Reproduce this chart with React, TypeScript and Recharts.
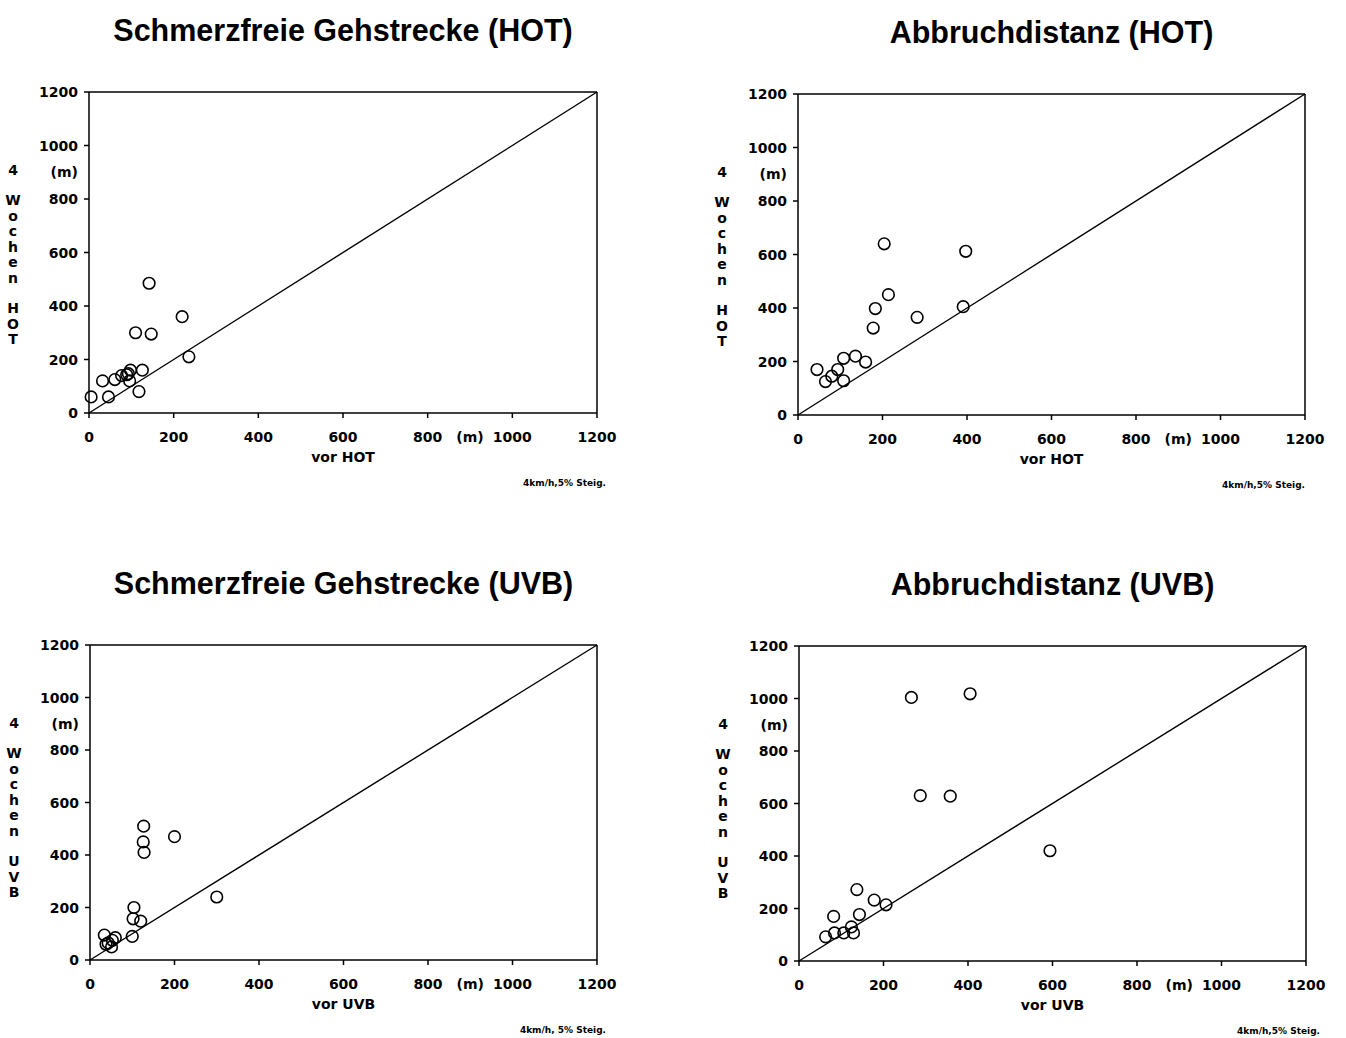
import React from 'react';
import { ScatterChart, Scatter, XAxis, YAxis, ReferenceLine } from 'recharts';

// ---- tick labels ----
const axisTicks = [0, 200, 400, 600, 800, 900, 1000, 1200];
const unitTick = 900;
const unitLabel = '(m)';

// ---- texts ----
const titles = [
  'Schmerzfreie Gehstrecke (HOT)',
  'Abbruchdistanz (HOT)',
  'Schmerzfreie Gehstrecke (UVB)',
  'Abbruchdistanz (UVB)',
];
const xAxisTitles = ['vor HOT', 'vor HOT', 'vor UVB', 'vor UVB'];
const yAxisTreatment = ['HOT', 'HOT', 'UVB', 'UVB'];
const yAxisWeeks = '4';
const yAxisWord = 'Wochen';
const footnotes = ['4km/h,5% Steig.', '4km/h,5% Steig.', '4km/h, 5% Steig.', '4km/h,5% Steig.'];

// ---- data: Schmerzfreie Gehstrecke (HOT) ----
const sgHotVor = [5, 32, 46, 61, 77, 89, 93, 98, 96, 118, 126, 110, 147, 142, 220, 236];
const sgHot4W = [60, 120, 60, 125, 140, 143, 147, 160, 120, 80, 160, 300, 295, 485, 360, 210];

// ---- data: Abbruchdistanz (HOT) ----
const adHotVor = [45, 65, 80, 94, 108, 108, 136, 160, 178, 183, 214, 204, 282, 391, 397];
const adHot4W = [170, 125, 145, 170, 212, 128, 220, 198, 325, 398, 450, 640, 365, 405, 612];

// ---- data: Schmerzfreie Gehstrecke (UVB) ----
const sgUvbVor = [34, 38, 43, 51, 53, 60, 100, 102, 104, 120, 128, 126, 127, 200, 300];
const sgUvb4W = [95, 60, 65, 50, 75, 85, 90, 157, 200, 148, 410, 450, 510, 470, 240];

// ---- data: Abbruchdistanz (UVB) ----
const adUvbVor = [63, 84, 82, 106, 124, 129, 143, 137, 178, 206, 266, 405, 287, 358, 594];
const adUvb4W = [92, 107, 170, 107, 130, 107, 177, 272, 232, 214, 1004, 1018, 630, 628, 420];

const toPoints = (xs: number[], ys: number[]) => xs.map((x, i) => ({ x, y: ys[i] }));
const series = [
  toPoints(sgHotVor, sgHot4W),
  toPoints(adHotVor, adHot4W),
  toPoints(sgUvbVor, sgUvb4W),
  toPoints(adUvbVor, adUvb4W),
];

// plot boxes (layout only)
const boxes = [
  { L: 89, T: 92, R: 597, B: 413, foot: 606 },
  { L: 798, T: 94, R: 1305, B: 415, foot: 1305 },
  { L: 90, T: 645, R: 597, B: 960, foot: 606 },
  { L: 799, T: 646, R: 1306, B: 961, foot: 1320 },
];

const tickFont = { fontFamily: '"DejaVu Sans", sans-serif', fontWeight: 700, fontSize: 14 } as const;

const XTick = (props: any) => {
  const { x, y, payload } = props;
  const v = payload.value;
  const isUnit = v === unitTick;
  return (
    <g>
      {!isUnit && <line x1={x} x2={x} y1={y - 5} y2={y} stroke="#000" strokeWidth={1.5} />}
      <text x={x} y={y + 19} textAnchor="middle" dominantBaseline="central" fill="#000" style={tickFont}>
        {isUnit ? unitLabel : v}
      </text>
    </g>
  );
};

const YTick = (props: any) => {
  const { x, y, payload } = props;
  const v = payload.value;
  const isUnit = v === unitTick;
  return (
    <g>
      {!isUnit && <line x1={x} x2={x + 5} y1={y} y2={y} stroke="#000" strokeWidth={1.5} />}
      <text x={x - 6} y={y} textAnchor="end" dominantBaseline="central" fill="#000" style={tickFont}>
        {isUnit ? unitLabel : v}
      </text>
    </g>
  );
};

const Ring = (props: any) => {
  const { cx, cy } = props;
  return <circle cx={cx} cy={cy} r={5.8} fill="none" stroke="#000" strokeWidth={1.6} />;
};

const CW = 673;
const CH = 540;

const Panel = ({ i }: { i: number }) => {
  const b = boxes[i];
  const pw = b.R - b.L;
  const ph = b.B - b.T;
  const yAxisW = 40;
  const xAxisH = 30;
  const margin = {
    top: 92,
    left: 89 - yAxisW,
    right: CW - 89 - pw,
    bottom: CH - 92 - ph - xAxisH,
  };
  const cx = (b.L + b.R) / 2;
  const center: React.CSSProperties = {
    position: 'absolute',
    transform: 'translate(-50%, -50%)',
    whiteSpace: 'nowrap',
    color: '#000',
    lineHeight: 1,
  };
  const labelFont: React.CSSProperties = {
    fontFamily: '"DejaVu Sans", sans-serif',
    fontWeight: 700,
    fontSize: 14,
  };
  const letters = (word: string, y0: number) =>
    word.split('').map((ch, k) => (
      <div key={word + k} style={{ ...center, ...labelFont, left: b.L - 76, top: y0 + k * 15.5 }}>
        {ch}
      </div>
    ));
  return (
    <>
      <div style={{ position: 'absolute', left: b.L - 89, top: b.T - 92, width: CW, height: CH }}>
        <ScatterChart width={CW} height={CH} margin={margin}>
          <XAxis
            type="number"
            dataKey="x"
            domain={[0, 1200]}
            ticks={axisTicks}
            interval={0}
            height={xAxisH}
            tickSize={5}
            tickMargin={0}
            tickLine={false}
            tick={<XTick />}
            axisLine={{ stroke: '#000', strokeWidth: 1.5 }}
          />
          <YAxis
            type="number"
            dataKey="y"
            domain={[0, 1200]}
            ticks={axisTicks}
            interval={0}
            width={yAxisW}
            tickSize={5}
            tickMargin={0}
            tickLine={false}
            tick={<YTick />}
            axisLine={{ stroke: '#000', strokeWidth: 1.5 }}
          />
          <ReferenceLine y={1200} stroke="#000" strokeWidth={1.5} />
          <ReferenceLine x={1200} stroke="#000" strokeWidth={1.5} />
          <ReferenceLine
            segment={[
              { x: 0, y: 0 },
              { x: 1200, y: 1200 },
            ]}
            stroke="#000"
            strokeWidth={1.4}
          />
          <Scatter data={series[i]} shape={<Ring />} isAnimationActive={false} />
        </ScatterChart>
      </div>
      <div
        style={{
          ...center,
          left: cx,
          top: b.T - 62,
          fontFamily: '"Liberation Sans", Arial, sans-serif',
          fontWeight: 700,
          fontSize: 30.5,
        }}
      >
        {titles[i]}
      </div>
      <div style={{ ...center, ...labelFont, left: cx, top: b.B + 44 }}>{xAxisTitles[i]}</div>
      <div style={{ ...center, ...labelFont, left: b.L - 76, top: b.T + 78 }}>{yAxisWeeks}</div>
      {letters(yAxisWord, b.T + 108)}
      {letters(yAxisTreatment[i], b.T + 216)}
      <div
        style={{
          position: 'absolute',
          right: 1346 - b.foot,
          top: b.B + 66,
          fontFamily: '"DejaVu Sans", sans-serif',
          fontWeight: 700,
          fontSize: 9,
          whiteSpace: 'nowrap',
          lineHeight: 1,
        }}
      >
        {footnotes[i]}
      </div>
    </>
  );
};

export default function App() {
  return (
    <div
      style={{
        position: 'absolute',
        left: 0,
        top: 0,
        width: 1346,
        height: 1038,
        background: '#fff',
        overflow: 'hidden',
      }}
    >
      {[0, 1, 2, 3].map((i) => (
        <Panel key={i} i={i} />
      ))}
    </div>
  );
}
